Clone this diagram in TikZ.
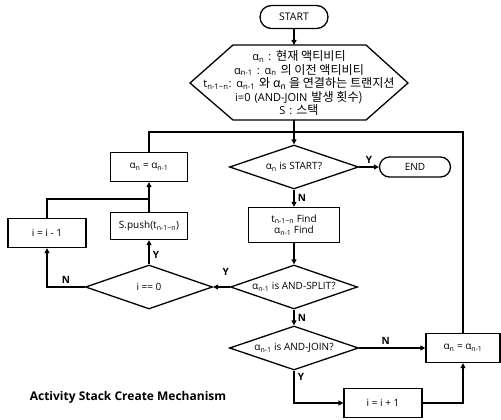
\documentclass[tikz,border=0pt]{standalone}
\usepackage{fontspec}
\setmainfont{Open Sans}
\newfontfamily\hexfont{Open Sans}[WordSpace=1.4]
\newfontfamily\kr{Noto Sans CJK KR}[Scale=1.1]
\usetikzlibrary{shapes.geometric,shapes.misc,arrows.meta,calc}
\newcommand{\sbs}[1]{\textsubscript{#1}}
\begin{document}
\begin{tikzpicture}[x=1pt,y=-1pt, line width=1.3pt,
  >={Triangle[length=5pt,width=5pt]},
  every node/.style={font=\fontsize{10}{11.5}\selectfont},
  box/.style={draw, rectangle, minimum width=77pt, minimum height=29pt, inner sep=1pt},
  dec/.style={draw, diamond, shape aspect=2.9, minimum width=129pt, minimum height=44pt, inner sep=0pt},
  term/.style={draw, rounded rectangle, minimum width=68pt, minimum height=23pt, inner sep=0pt},
  lbl/.style={font=\bfseries\fontsize{10}{11}\selectfont}]
\useasboundingbox (0,0) rectangle (501,420);

% nodes
\node[term] (start) at (294,17) {\fontsize{10.5}{11}\selectfont START};
\node[align=center, font=\hexfont\fontsize{11}{13.5}\selectfont] (prep) at (299,83) {α\sbs{n} : \kr{현재} \kr{액티비티}\\
α\sbs{n-1} : α\sbs{n} \kr{의} \kr{이전} \kr{액티비티}\\
t\sbs{n-1\textasciitilde n}: α\sbs{n-1} \kr{와} α\sbs{n} \kr{을} \kr{연결하는} \kr{트랜지션}\\
i=0 (AND-JOIN \kr{발생} \kr{횟수})\\
S : \kr{스택}};
\draw ($(prep)+(-109,0)$) -- ($(prep)+(-66,-38)$) -- ($(prep)+(67,-38)$) -- ($(prep)+(109,0)$)
  -- ($(prep)+(67,37)$) -- ($(prep)+(-66,37)$) -- cycle;
\coordinate (hextop) at (294,45);
\coordinate (hexbot) at (294,120);

\node[dec] (d1) at (294,167) {α\sbs{n} is START?};
\node[term, minimum width=71pt, minimum height=20pt] (end) at (415,167) {END};
\node[box, minimum width=91pt, minimum height=35pt, align=center] (find) at (294,225)
  {t\sbs{n-1\textasciitilde n} Find\\α\sbs{n-1} Find};
\node[dec, minimum width=127pt] (d2) at (294,287) {α\sbs{n-1} is AND-SPLIT?};
\node[dec, minimum width=127pt] (d3) at (149,287) {i == 0};
\node[dec] (d4) at (294,348) {α\sbs{n-1} is AND-JOIN?};
\node[box, minimum height=27pt] (push) at (149,226) {S.push(t\sbs{n-1\textasciitilde n})};
\node[box] (alphaL) at (149,167) {α\sbs{n} = α\sbs{n-1}};
\node[box, minimum width=78pt] (dec) at (47,233) {i = i - 1};
\node[box, minimum width=74pt] (alphaR) at (463,348) {α\sbs{n} = α\sbs{n-1}};
\node[box, minimum width=78pt] (inc) at (383,403) {i = i + 1};
\node[font=\bfseries\fontsize{12}{13}\selectfont] (title) at (128,397) {Activity Stack Create Mechanism};

\coordinate (jR) at (463,132);
\coordinate (jL) at (149,199);

% connectors
\draw[->] (start.south) -- (hextop);
\draw[->] (hexbot) -- (d1.north);
\draw (alphaL.north) |- (jR) -- (alphaR.north);
\draw[->] (d1.east) -- (end.west) node[lbl, midway, above] {Y};
\draw[->] (d1.south) -- (find.north) node[lbl, midway, right] {N};
\draw[->] (find.south) -- (d2.north);
\draw[->] (d2.west) -- (d3.east) node[lbl, pos=0.25, above=8pt] {Y};
\draw[->] (d3.north) -- (push.south) node[lbl, pos=0.4, right] {Y};
\draw[->] (d3.west) -| (dec.south) node[lbl, pos=0.25, above] {N};
\draw[->] (push.north) -- (alphaL.south);
\draw (dec.north) |- (jL);
\draw[->] (d2.south) -- (d4.north) node[lbl, midway, right] {N};
\draw[->] (d4.east) -- (alphaR.west) node[lbl, pos=0.4, above] {N};
\draw[->] (d4.south) |- (inc.west) node[lbl, pos=0.1, right] {Y};
\draw[->] (inc.east) -| (alphaR.south);
\end{tikzpicture}
\end{document}
